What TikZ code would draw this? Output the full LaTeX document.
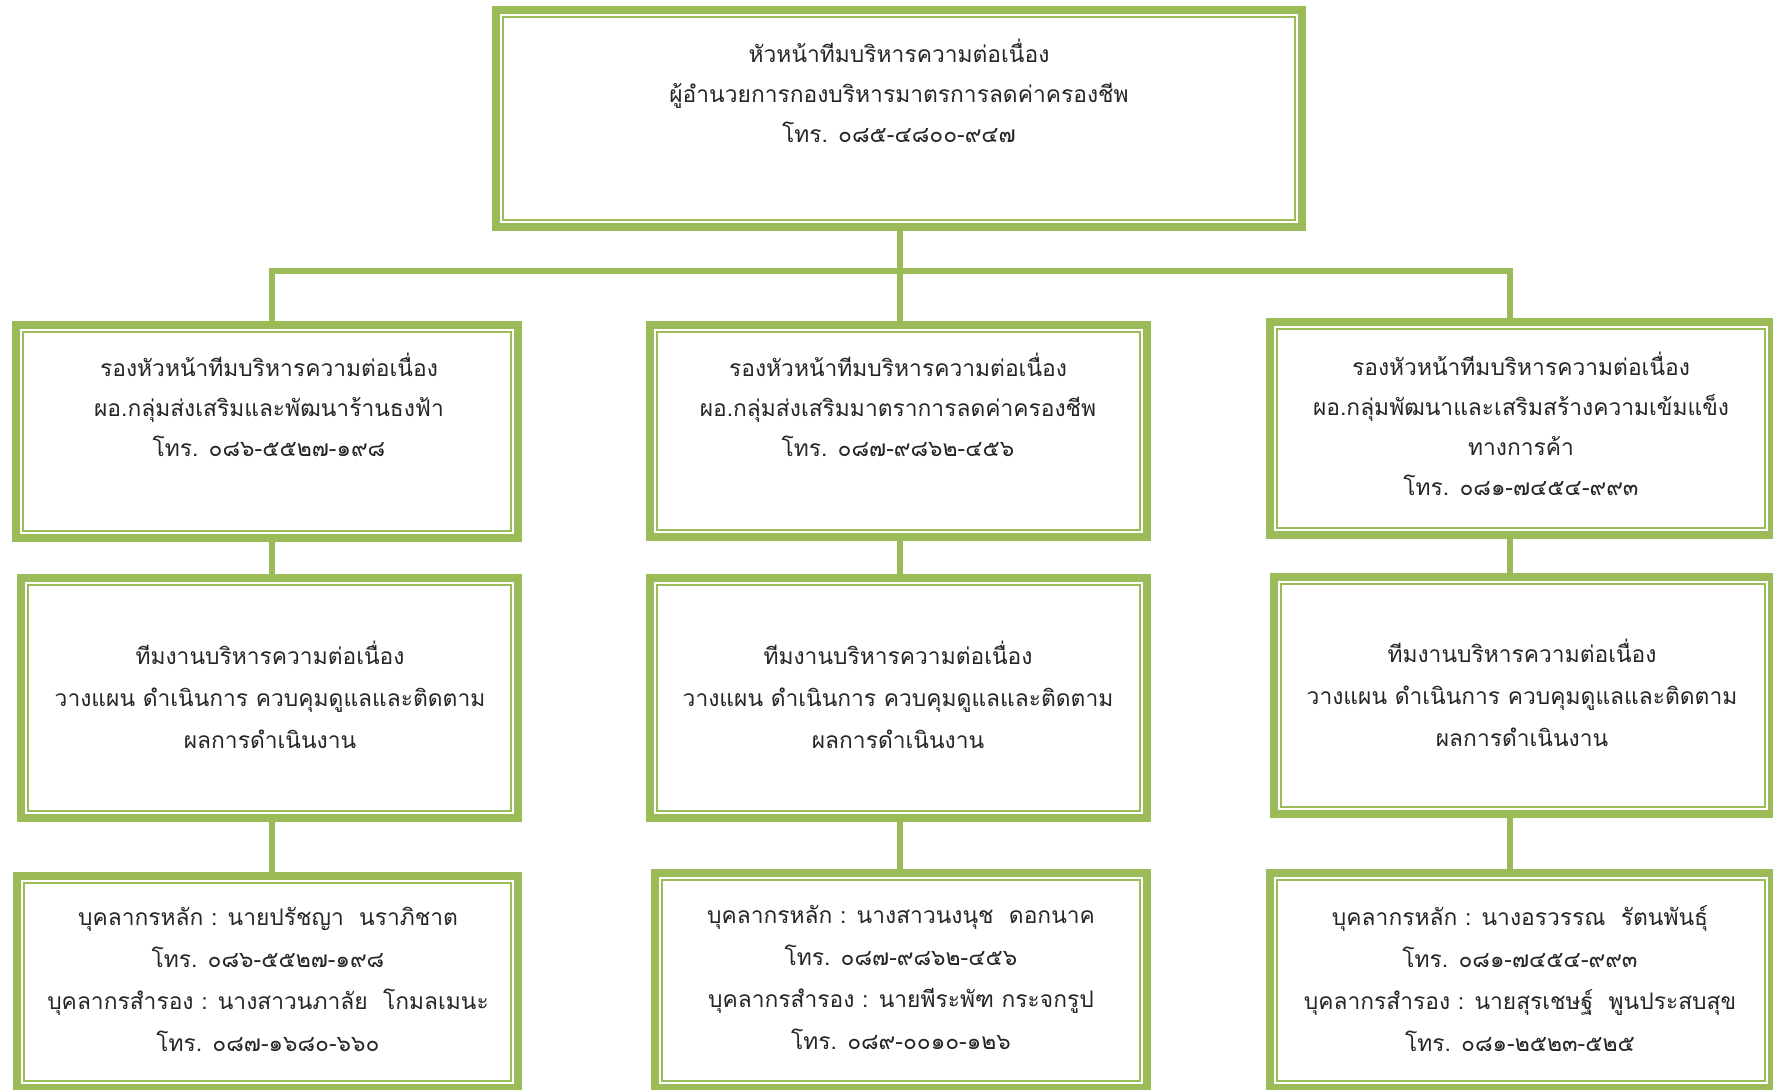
\documentclass[tikz,border=0pt]{standalone}
\usepackage{fontspec}
\newfontfamily\thaifont[Script=Thai]{Loma}
\usetikzlibrary{positioning}
\definecolor{leaf}{HTML}{9BBB59}

\begin{document}
\begin{tikzpicture}[x=1pt, y=-1pt,
  box/.style={draw=leaf, line width=8pt, fill=white, inner sep=0pt,
    path picture={\draw[leaf, line width=2.5pt]
      ([shift={(7pt,-7pt)}]path picture bounding box.north west) rectangle
      ([shift={(-7pt,7pt)}]path picture bounding box.south east);}},
  txt/.style={align=center, inner sep=0pt, text=black!85,
    font=\thaifont\fontsize{22.8}{40}\selectfont},
  wide/.style={font=\thaifont\fontsize{22.8}{42}\selectfont},
  link/.style={draw=leaf, line width=6.5pt}]
\path[use as bounding box, fill=white] (0,0) rectangle (1773,1090);

\coordinate (hub) at (900,271);
\coordinate (jl) at (272,271);
\coordinate (jr) at (1510,271);

\node[box, minimum width=806pt, minimum height=217pt] (top) at (899,118.5) {};
\node[box, minimum width=502pt, minimum height=213pt] (l1) at (267,431.5) {};
\node[box, minimum width=497pt, minimum height=212pt] (m1) at (898.5,431) {};
\node[box, minimum width=502pt, minimum height=213pt] (r1) at (1521,428.5) {};
\node[box, minimum width=497pt, minimum height=240pt] (l2) at (269.5,698) {};
\node[box, minimum width=497pt, minimum height=240pt] (m2) at (898.5,698) {};
\node[box, minimum width=498pt, minimum height=237pt] (r2) at (1523,695.5) {};
\node[box, minimum width=501pt, minimum height=212pt] (l3) at (267.5,982) {};
\node[box, minimum width=492pt, minimum height=215pt] (m3) at (901,980.5) {};
\node[box, minimum width=502pt, minimum height=215pt] (r3) at (1521,980.5) {};

\node[txt] (topt) at (899,91) {หัวหน้าทีมบริหารความต่อเนื่อง\\ผู้อำนวยการกองบริหารมาตรการลดค่าครองชีพ\\โทร. ๐๘๕-๔๘๐๐-๙๔๗};
\node[txt] (l1t) at (269,405) {รองหัวหน้าทีมบริหารความต่อเนื่อง\\ผอ.กลุ่มส่งเสริมและพัฒนาร้านธงฟ้า\\โทร. ๐๘๖-๕๕๒๗-๑๙๘};
\node[txt] (m1t) at (898,405) {รองหัวหน้าทีมบริหารความต่อเนื่อง\\ผอ.กลุ่มส่งเสริมมาตราการลดค่าครองชีพ\\โทร. ๐๘๗-๙๘๖๒-๔๕๖};
\node[txt] (r1t) at (1521,424) {รองหัวหน้าทีมบริหารความต่อเนื่อง\\ผอ.กลุ่มพัฒนาและเสริมสร้างความเข้มแข็ง\\ทางการค้า\\โทร. ๐๘๑-๗๔๕๔-๙๙๓};
\node[txt, wide] (l2t) at (270,694.5) {ทีมงานบริหารความต่อเนื่อง\\วางแผน ดำเนินการ ควบคุมดูแลและติดตาม\\ผลการดำเนินงาน};
\node[txt, wide] (m2t) at (898,694.5) {ทีมงานบริหารความต่อเนื่อง\\วางแผน ดำเนินการ ควบคุมดูแลและติดตาม\\ผลการดำเนินงาน};
\node[txt, wide] (r2t) at (1522,692.5) {ทีมงานบริหารความต่อเนื่อง\\วางแผน ดำเนินการ ควบคุมดูแลและติดตาม\\ผลการดำเนินงาน};
\node[txt, wide] (l3t) at (268,979) {บุคลากรหลัก : นายปรัชญา\ \ นราภิชาต\\โทร. ๐๘๖-๕๕๒๗-๑๙๘\\บุคลากรสำรอง : นางสาวนภาลัย\ \ โกมลเมนะ\\โทร. ๐๘๗-๑๖๘๐-๖๖๐};
\node[txt, wide] (m3t) at (901,977.5) {บุคลากรหลัก : นางสาวนงนุช\ \ ดอกนาค\\โทร. ๐๘๗-๙๘๖๒-๔๕๖\\บุคลากรสำรอง : นายพีระพัฑ กระจกรูป\\โทร. ๐๘๙-๐๐๑๐-๑๒๖};
\node[txt, wide] (r3t) at (1520,979) {บุคลากรหลัก : นางอรวรรณ\ \ รัตนพันธุ์\\โทร. ๐๘๑-๗๔๕๔-๙๙๓\\บุคลากรสำรอง : นายสุรเชษฐ์\ \ พูนประสบสุข\\โทร. ๐๘๑-๒๕๒๓-๕๒๕};

\draw[link] (top.south -| hub) -- (hub) -- (m1.north -| hub);
\draw[link] (l1.north -| jl) -- (jl) -- (jr) -- (r1.north -| jr);
\draw[link] (l1.south -| jl) -- (l2.north -| jl);
\draw[link] (l2.south -| jl) -- (l3.north -| jl);
\draw[link] (m1.south -| hub) -- (m2.north -| hub);
\draw[link] (m2.south -| hub) -- (m3.north -| hub);
\draw[link] (r1.south -| jr) -- (r2.north -| jr);
\draw[link] (r2.south -| jr) -- (r3.north -| jr);
\end{tikzpicture}
\end{document}
